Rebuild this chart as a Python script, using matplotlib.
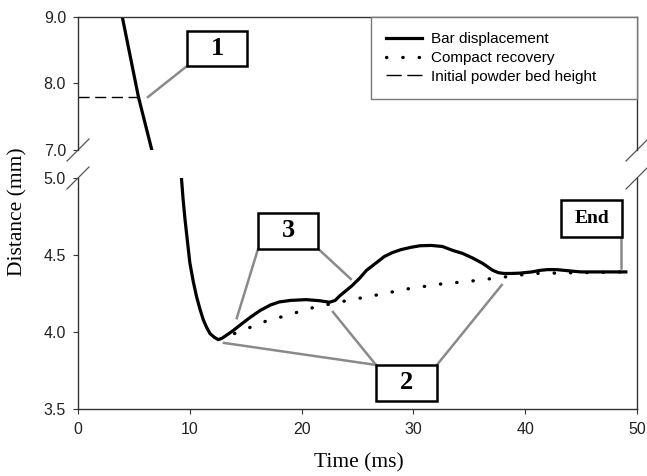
import matplotlib
matplotlib.use("Agg")
import matplotlib.pyplot as plt
from matplotlib.patches import Rectangle
from matplotlib.lines import Line2D

# bar displacement before the axis break (ms, mm)
bar_top_t = [3.96, 5.4, 6.6]
bar_top_d = [9.0, 7.8, 7.0]

# bar displacement below the break
bar_t = [9.25, 9.4, 9.57, 9.8, 10.0, 10.3, 10.6, 10.9, 11.2, 11.5, 11.8, 12.2, 12.55,
         12.9, 13.3, 13.8, 14.5, 15.4, 16.3, 17.2, 18.0, 19.0, 20.4, 21.6, 22.5, 23.0,
         23.4, 24.0, 24.5, 25.2, 25.8, 26.6, 27.4, 28.1, 28.9, 29.8, 30.6, 31.6, 32.6,
         33.5, 34.4, 35.3, 36.2, 37.1, 37.6, 38.1, 38.8, 39.5, 40.6, 41.3, 42.0, 42.8,
         43.5, 44.2, 45.0, 47.0, 49.0]
bar_d = [5.0, 4.86, 4.73, 4.58, 4.45, 4.33, 4.23, 4.15, 4.08, 4.03, 3.99, 3.965, 3.95,
         3.96, 3.98, 4.005, 4.045, 4.095, 4.14, 4.175, 4.195, 4.205, 4.21, 4.203, 4.193, 4.205,
         4.234, 4.27, 4.30, 4.35, 4.40, 4.445, 4.49, 4.515, 4.535, 4.55, 4.56, 4.562, 4.555,
         4.53, 4.51, 4.48, 4.445, 4.40, 4.385, 4.38, 4.38, 4.382, 4.39, 4.40, 4.405, 4.405,
         4.40, 4.395, 4.39, 4.39, 4.39]

# compact recovery
recovery_t = [14.0, 15.4, 16.8, 18.3, 19.7, 21.1, 23.8, 26.7, 29.5, 32.3, 35.1, 37.9, 40.7, 49.0]
recovery_d = [3.99, 4.03, 4.07, 4.10, 4.13, 4.16, 4.20, 4.24, 4.28, 4.31, 4.33, 4.355, 4.38, 4.39]

# initial powder bed height
bed_t = [0.0, 5.4]
bed_d = [7.8, 7.8]

top_ticks = [7.0, 8.0, 9.0]
bottom_ticks = [3.5, 4.0, 4.5, 5.0]
time_ticks = [0, 10, 20, 30, 40, 50]

SANS = "Liberation Sans"
SERIF = "Liberation Serif"
SPINE = "#333333"
LEADER = "#8a8a8a"

fig = plt.figure(figsize=(6.47, 4.76), dpi=100)
ax_top = fig.add_axes([0.1206, 0.6849, 0.864, 0.2794])
ax_bot = fig.add_axes([0.1206, 0.1408, 0.864, 0.4853])

dotted = (0, (0.1, 4.8))

ax_top.plot(bar_top_t, bar_top_d, color="black", lw=2.3)
ax_top.plot(bed_t, bed_d, color="black", lw=1.0, linestyle=(0, (8, 4)))
ax_bot.plot(bar_t, bar_d, color="black", lw=2.3, zorder=3, solid_joinstyle="round")
ax_bot.plot(recovery_t, recovery_d, color="black", lw=2.4, linestyle=dotted,
            dash_capstyle="round", zorder=2)

ax_top.set_xlim(0, 50)
ax_top.set_ylim(7.0, 9.0)
ax_bot.set_xlim(0, 50)
ax_bot.set_ylim(3.5, 5.0)

ax_top.set_yticks(top_ticks)
ax_top.set_yticklabels([f"{v:.1f}" for v in top_ticks])
ax_bot.set_yticks(bottom_ticks)
ax_bot.set_yticklabels([f"{v:.1f}" for v in bottom_ticks])
ax_bot.set_xticks(time_ticks)
ax_bot.set_xticklabels([str(v) for v in time_ticks])
ax_top.tick_params(axis="x", bottom=False, labelbottom=False)

for ax in (ax_top, ax_bot):
    ax.tick_params(direction="out", length=3.6, width=0.8, color=SPINE,
                   labelsize=11.5, labelcolor="#222222", pad=5)
    for lab in ax.get_xticklabels() + ax.get_yticklabels():
        lab.set_fontfamily(SANS)
    for s in ax.spines.values():
        s.set_color(SPINE)
        s.set_linewidth(1.0)
ax_top.spines["bottom"].set_visible(False)
ax_bot.spines["top"].set_visible(False)
ax_bot.tick_params(axis="x", pad=6)

# break marks on both sides
for ax, dy in ((ax_top, 11 / 133), (ax_bot, 11 / 231)):
    y0 = 0 if ax is ax_top else 1
    for x0 in (0, 1):
        ax.plot([x0 - 11 / 559, x0 + 11 / 559], [y0 - dy, y0 + dy],
                transform=ax.transAxes, color="#555555", lw=0.9, clip_on=False)

# legend
handles = [Line2D([], [], color="black", lw=2.3),
           Line2D([], [], color="black", lw=2.4, linestyle=dotted, dash_capstyle="round"),
           Line2D([], [], color="black", lw=1.0, linestyle=(0, (11, 4)))]
leg = ax_top.legend(handles, ["Bar displacement", "Compact recovery", "Initial powder bed height"],
                    loc="upper left", bbox_to_anchor=(0.524, 0.0, 0.476, 1.0), mode="expand",
                    borderaxespad=0, fancybox=False, framealpha=1, handlelength=2.35,
                    handletextpad=0.6, labelspacing=0.31, borderpad=1.0,
                    prop={"family": SANS, "size": 11})
leg.get_frame().set_edgecolor("#777777")
leg.get_frame().set_linewidth(1.0)


def label_box(ax, x0, x1, y0, y1, text, size, leaders):
    for (xa, ya), (xb, yb) in leaders:
        ax.plot([xa, xb], [ya, yb], color=LEADER, lw=1.8, zorder=1, clip_on=False)
    ax.add_patch(Rectangle((x0, y0), x1 - x0, y1 - y0, facecolor="white",
                           edgecolor="black", lw=1.8, zorder=4))
    ax.text((x0 + x1) / 2, (y0 + y1) / 2, text, ha="center", va="center",
            fontsize=size, fontweight="bold", family=SERIF, zorder=5)


label_box(ax_top, 9.75, 15.12, 8.263, 8.789, "1", 19,
          [((9.75, 8.263), (6.26, 7.797))])
label_box(ax_bot, 16.1, 21.5, 4.539, 4.773, "3", 19,
          [((16.1, 4.539), (14.2, 4.09)), ((21.5, 4.539), (24.4, 4.344))])
label_box(ax_bot, 26.65, 32.1, 3.552, 3.786, "2", 19,
          [((26.65, 3.786), (13.05, 3.929)), ((26.65, 3.786), (22.8, 4.13)),
           ((32.1, 3.786), (37.9, 4.305))])
label_box(ax_bot, 43.2, 48.66, 4.617, 4.857, "End", 14,
          [((48.6, 4.617), (48.6, 4.416))])

fig.text(18 / 647, 1 - 212 / 476, "Distance (mm)", rotation=90, ha="center", va="center",
         fontsize=15.5, family=SERIF)
fig.text(359 / 647, 1 - 463 / 476, "Time (ms)", ha="center", va="center",
         fontsize=15.5, family=SERIF)

fig.savefig("out.png", dpi=100)
